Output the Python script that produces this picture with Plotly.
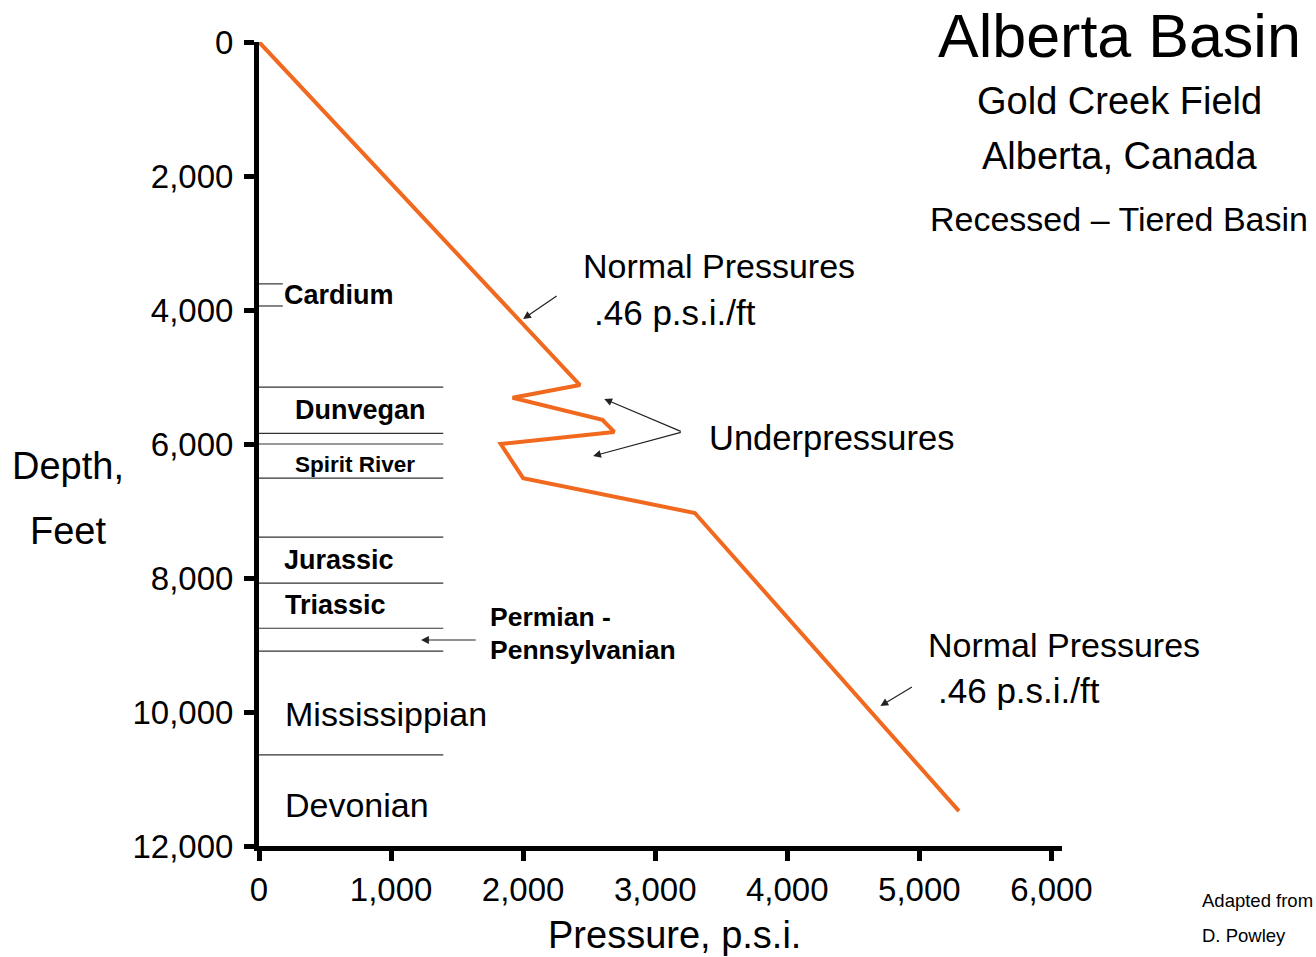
import plotly.graph_objects as go

# Pressure-depth profile, Gold Creek Field
pressure_psi = [0, 2430, 1920, 2600, 2690, 1830, 2000, 3300, 5300]
depth_ft = [0, 5120, 5310, 5640, 5820, 6000, 6510, 7030, 11480]

# Formation boundaries (depth, ft) drawn across the left of the chart
boundary_depths = [5150, 5840, 6000, 6510, 7390, 8075, 8750, 9090, 10640]
boundary_extent = 1395
cardium_depths = [3610, 3940]
cardium_extent = 180

x_ticks = [0, 1000, 2000, 3000, 4000, 5000, 6000]
y_ticks = [0, 2000, 4000, 6000, 8000, 10000, 12000]

FONT = "Liberation Sans, Arial, sans-serif"
ORANGE = "#F0691E"

fig = go.Figure()

# formation boundary lines
bx, by = [], []
for d in boundary_depths:
    bx += [0, boundary_extent, None]
    by += [d, d, None]
for d in cardium_depths:
    bx += [0, cardium_extent, None]
    by += [d, d, None]
fig.add_trace(go.Scatter(x=bx, y=by, mode="lines",
                         line=dict(color="#333333", width=1.2),
                         hoverinfo="skip", showlegend=False))

# pressure profile
fig.add_trace(go.Scatter(x=pressure_psi, y=depth_ft, mode="lines",
                         line=dict(color=ORANGE, width=4),
                         showlegend=False))


def label(text, x, y, size, bold=False, xref="x", yref="y", xanchor="left"):
    fig.add_annotation(
        x=x, y=y, xref=xref, yref=yref, text=f"<b>{text}</b>" if bold else text,
        showarrow=False, xanchor=xanchor, yanchor="middle", borderpad=0,
        font=dict(family=FONT, size=size, color="black"))


def arrow(x_head, y_head, x_tail, y_tail):
    fig.add_annotation(
        x=x_head, y=y_head, ax=x_tail, ay=y_tail, xref="x", yref="y",
        axref="x", ayref="y", text="", showarrow=True,
        arrowhead=2, arrowsize=1.3, arrowwidth=1.2, arrowcolor="#222222")


# formation names
label("Cardium", 180, 3776, 27, bold=True)
label("Dunvegan", 263, 5493, 27, bold=True)
label("Spirit River", 263, 6313, 22.5, bold=True)
label("Jurassic", 180, 7731, 27, bold=True)
label("Triassic", 188, 8403, 27, bold=True)
label("Permian -", 1740, 8582, 26.5, bold=True)
label("Pennsylvanian", 1740, 9075, 26.5, bold=True)
label("Mississippian", 188, 10030, 34)
label("Devonian", 188, 11388, 34)

# pressure regime notes
label("Normal Pressures", 2445, 3343, 34)
label(".46 p.s.i./ft", 2528, 4030, 35)
label("Underpressures", 3400, 5910, 34.5)
label("Normal Pressures", 5059, 9000, 34)
label(".46 p.s.i./ft", 5135, 9672, 35)

arrow(2000, 4134, 2265, 3776)
arrow(2614, 5328, 3205, 5821)
arrow(2530, 6179, 3205, 5821)
arrow(4705, 9910, 4955, 9612)
arrow(1227, 8925, 1652, 8925)

# title block
label("Alberta Basin", 1.071, 1.007, 61, xref="paper", yref="paper", xanchor="center")
label("Gold Creek Field", 1.071, 0.927, 38, xref="paper", yref="paper", xanchor="center")
label("Alberta, Canada", 1.071, 0.858, 38, xref="paper", yref="paper", xanchor="center")
label("Recessed \u2013 Tiered Basin", 1.071, 0.780, 34, xref="paper", yref="paper", xanchor="center")

# axis titles
label("Depth,", -0.238, 0.473, 38, xref="paper", yref="paper", xanchor="center")
label("Feet", -0.238, 0.392, 38, xref="paper", yref="paper", xanchor="center")
label("Pressure, p.s.i.", 0.518, -0.111, 38, xref="paper", yref="paper", xanchor="center")

# credit
label("Adapted from", 1.1735, -0.0672, 18.5, xref="paper", yref="paper")
label("D. Powley", 1.1735, -0.111, 18.5, xref="paper", yref="paper")

fig.update_xaxes(
    range=[0, 6080], tickvals=x_ticks, tickformat=",d",
    showline=True, linecolor="black", linewidth=5,
    ticks="outside", ticklen=10, tickwidth=5, tickcolor="black",
    showgrid=False, zeroline=False,
    tickfont=dict(family=FONT, size=33, color="black"),
)
fig.update_yaxes(
    range=[12000, 0], tickvals=y_ticks, tickformat=",d",
    showline=True, linecolor="black", linewidth=5,
    ticks="outside", ticklen=10, tickwidth=5, tickcolor="black",
    ticklabelstandoff=4,
    showgrid=False, zeroline=False,
    tickfont=dict(family=FONT, size=33, color="black"),
)

fig.update_layout(
    width=1316, height=957,
    margin=dict(l=259, r=254, t=42, b=111),
    plot_bgcolor="white", paper_bgcolor="white",
    showlegend=False,
)

fig.write_html("out.html")
